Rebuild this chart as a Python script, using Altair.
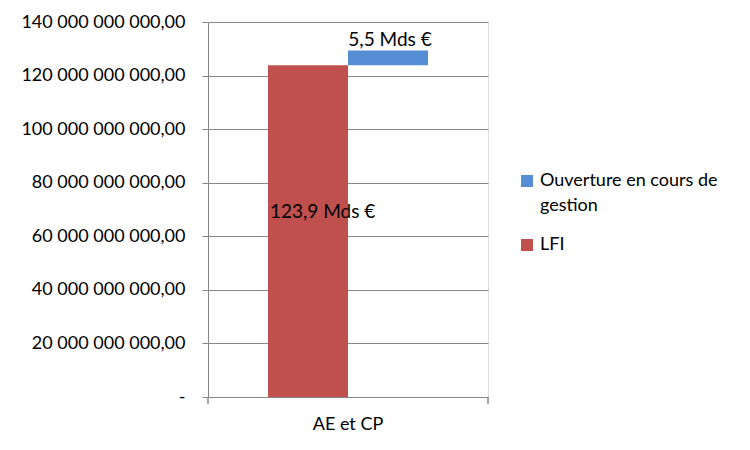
import altair as alt
import pandas as pd

categories = ["AE et CP", "AE et CP"]
series = ["LFI", "Ouverture en cours de gestion"]
starts = [0, 123.9e9]
ends = [123.9e9, 129.4e9]
labels = ["123,9 Mds €", "5,5 Mds €"]
y_ticks = [0, 20e9, 40e9, 60e9, 80e9, 100e9, 120e9, 140e9]

legend_order = ["Ouverture en cours de gestion", "LFI"]
colors = ["#558ED5", "#C0504D"]

df = pd.DataFrame({"cat": categories, "series": series, "start": starts,
                   "end": ends, "label": labels})

FONT = "Lato"
GRID = "#868686"

x_enc = alt.X("cat:N", title=None,
              scale=alt.Scale(paddingInner=0, paddingOuter=0.375),
              axis=alt.Axis(labelAngle=0, ticks=False, labelFontSize=18,
                            labelFont=FONT, labelColor="#000000",
                            labelPadding=18, domainColor=GRID))
xo_enc = alt.XOffset("series:N", sort=series, scale=alt.Scale(paddingInner=0))
y_enc = alt.Y("start:Q", title=None,
              scale=alt.Scale(domain=[0, 140e9], nice=False),
              axis=alt.Axis(values=y_ticks, grid=True, gridColor=GRID,
                            domainColor=GRID, tickColor=GRID, tickSize=6,
                            labelFontSize=18, labelFont=FONT,
                            labelColor="#000000", labelPadding=17,
                            labelExpr="datum.value == 0 ? '-\u00a0\u00a0' : replace(replace(format(datum.value, ',.2f'), regexp(',', 'g'), ' '), '.', ',')"))

bars = alt.Chart(df).mark_bar(size=80).encode(
    x=x_enc,
    xOffset=xo_enc,
    y=y_enc,
    y2="end:Q",
    color=alt.Color("series:N",
                    scale=alt.Scale(domain=legend_order, range=colors),
                    legend=alt.Legend(title=None, orient="none",
                                      legendX=310, legendY=150,
                                      symbolType="square", symbolSize=144,
                                      symbolStrokeWidth=0,
                                      labelFontSize=18, labelFont=FONT,
                                      labelColor="#000000", rowPadding=21,
                                      labelLimit=300,
                                      labelExpr="datum.label == 'Ouverture en cours de gestion' ? ['Ouverture en cours de', 'gestion'] : datum.label")),
)

lfi_text = alt.Chart(df).transform_filter(alt.datum.series == "LFI").transform_calculate(
    mid="(datum.start + datum.end) / 2"
).mark_text(fontSize=19, font=FONT, color="#000000", align="left", dx=-38, dy=-19).encode(
    x=alt.X("cat:N"), xOffset=alt.XOffset("series:N", sort=series),
    y=alt.Y("mid:Q"), text="label:N")

ouv_text = alt.Chart(df).transform_filter(alt.datum.series != "LFI").mark_text(
    fontSize=19, font=FONT, color="#000000", baseline="bottom", dx=2, dy=0
).encode(x=alt.X("cat:N"), xOffset=alt.XOffset("series:N", sort=series),
         y=alt.Y("end:Q"), text="label:N")

edge_ticks = alt.Chart(df).mark_rule(color=GRID).encode(
    x=alt.value(0), y=alt.value(375), y2=alt.value(382))
edge_ticks2 = alt.Chart(df).mark_rule(color=GRID).encode(
    x=alt.value(280), y=alt.value(375), y2=alt.value(382))

chart = alt.layer(bars, lfi_text, ouv_text, edge_ticks, edge_ticks2).properties(
    width=280, height=375,
    padding={"left": 12, "top": 5, "right": 5, "bottom": 5}
).configure_view(stroke=None).configure_axis(grid=True).configure(
    style={"guide-label": {"lineHeight": 25}})

chart.save("out.html", embed_options={"renderer": "svg", "actions": False})
